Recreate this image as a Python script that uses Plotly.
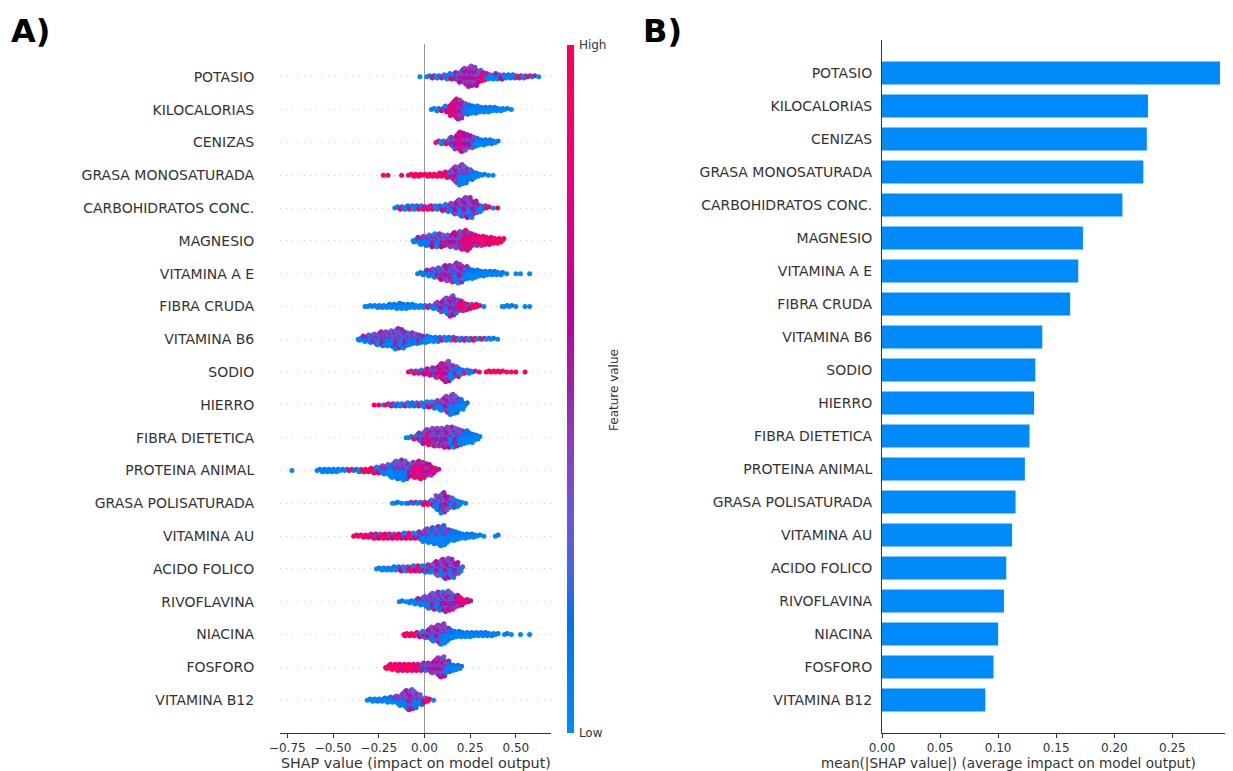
import math
import plotly.graph_objects as go

# ---------------- data ----------------
FEATURES = ["POTASIO", "KILOCALORIAS", "CENIZAS", "GRASA MONOSATURADA",
            "CARBOHIDRATOS CONC.", "MAGNESIO", "VITAMINA A E", "FIBRA CRUDA",
            "VITAMINA B6", "SODIO", "HIERRO", "FIBRA DIETETICA", "PROTEINA ANIMAL",
            "GRASA POLISATURADA", "VITAMINA AU", "ACIDO FOLICO", "RIVOFLAVINA",
            "NIACINA", "FOSFORO", "VITAMINA B12"]

MEAN_ABS_SHAP = [0.291, 0.229, 0.228, 0.225, 0.207, 0.173, 0.169, 0.162, 0.138, 0.132,
                 0.131, 0.127, 0.123, 0.115, 0.112, 0.107, 0.105, 0.100, 0.096, 0.089]

# beeswarm read as histograms: first bin centre (SHAP value), counts per 0.025 bin,
# and the dominant feature-value colour of each bin (b=low, c=low/mid, p=mid, m=mixed, w=mid/high, r=high)
BIN_WIDTH = 0.025
SWARM_START = [-0.025, 0.05, 0.075, -0.225, -0.15, -0.05, -0.025, -0.325, -0.35, -0.075,
               -0.275, -0.1, -0.725, -0.175, -0.375, -0.25, -0.125, -0.1, -0.2, -0.3]
SWARM_COUNTS = [
    [1, 0, 2, 3, 3, 4, 5, 6, 8, 12, 16, 20, 18, 12, 8, 6, 5, 6, 5, 4, 4, 3, 3, 3, 2, 2, 1],
    [2, 3, 4, 6, 12, 18, 16, 10, 8, 7, 6, 5, 5, 4, 3, 3, 2, 1],
    [2, 3, 4, 8, 12, 16, 14, 10, 8, 6, 5, 4, 3, 2],
    [1, 1, 0, 0, 1, 0, 2, 3, 3, 2, 3, 3, 4, 4, 6, 10, 16, 20, 16, 10, 6, 3, 2, 1, 1],
    [2, 3, 4, 4, 4, 4, 3, 4, 4, 4, 5, 7, 9, 12, 15, 18, 18, 12, 7, 4, 2, 1, 1],
    [3, 7, 9, 10, 12, 12, 11, 10, 12, 14, 16, 18, 14, 10, 9, 8, 7, 6, 5, 4],
    [2, 4, 6, 8, 10, 12, 14, 15, 18, 16, 12, 9, 7, 6, 5, 4, 4, 3, 3, 1, 0, 1, 1, 0, 1],
    [1, 2, 2, 3, 3, 4, 4, 5, 6, 5, 4, 3, 3, 3, 3, 5, 8, 12, 16, 20, 14, 10, 7, 5, 4, 2, 1,
     0, 0, 0, 1, 2, 2, 1, 0, 1, 1],
    [3, 6, 8, 10, 12, 14, 14, 16, 20, 18, 14, 12, 10, 8, 7, 6, 5, 5, 4, 4, 4, 3, 3, 3, 3, 3,
     2, 2, 2, 2, 1],
    [2, 3, 4, 5, 7, 9, 12, 16, 20, 14, 10, 6, 4, 3, 2, 1, 0, 2, 2, 2, 2, 1, 1, 1, 0, 1],
    [1, 1, 1, 2, 3, 3, 3, 4, 4, 4, 4, 5, 6, 7, 9, 12, 16, 20, 16, 10, 4],
    [1, 2, 4, 8, 12, 14, 16, 16, 17, 18, 18, 16, 14, 12, 9, 6, 3],
    [1, 0, 0, 0, 0, 0, 2, 3, 3, 3, 3, 2, 2, 2, 2, 3, 3, 4, 5, 6, 8, 10, 13, 16, 18, 16, 12,
     14, 16, 14, 10, 6, 2],
    [1, 2, 1, 1, 2, 2, 2, 3, 4, 7, 14, 20, 14, 10, 7, 3, 1],
    [2, 2, 3, 4, 5, 5, 5, 5, 5, 5, 5, 6, 6, 6, 8, 12, 14, 16, 18, 20, 14, 10, 8, 6, 5, 4, 3,
     2, 1, 0, 0, 2],
    [2, 3, 3, 4, 4, 5, 5, 5, 6, 6, 7, 8, 10, 14, 18, 20, 18, 12, 5],
    [2, 1, 3, 5, 7, 10, 13, 16, 18, 18, 20, 16, 12, 8, 4, 2],
    [3, 3, 4, 5, 7, 10, 14, 18, 20, 14, 8, 6, 6, 5, 5, 4, 4, 4, 3, 3, 2, 0, 2, 1, 0, 1, 0, 1],
    [4, 6, 7, 7, 7, 7, 7, 7, 8, 9, 12, 18, 20, 12, 7, 5, 3],
    [2, 3, 3, 4, 5, 6, 8, 12, 18, 20, 16, 10, 5, 3, 1],
]
SWARM_COLORS = [
    "bbbmbmcmmmpppmrcbcmbbcrbrmb",
    "bbmmwwpcbbbbbbbbbb",
    "rbmmpwppcbbbbb",
    "rrrrrrrrrrrrrrwmpcccbbbbb",
    "bmbmbmmrmbmmcpcpcpcbrbw",
    "bcccmcmmppmwwwwrwrrr",
    "bbccmmpmcpcbbbbbbbbbbbbbb",
    "bbbbbbbbbbbbbbmccpcpmwrmrrbbbbbbbbbbb",
    "bccmcmccmcmccmcbbbmbbrbmbrbrbbb",
    "rmmmwmpwpcmbmbmrrrrrrrrrrr",
    "rrbrmcbmbcmbmmccpccbb",
    "bbmmmwmpmpcmcbbbb",
    "bbbbbbbbbbbbbrmbrrrmccbcccmwwwpww",
    "bbbbmmbmrmcmpcmbb",
    "rrrwrmrrmrwmrmmccbcbcbbbbbbbbbbb",
    "bbbbbmbrmrmmcpcpcpc",
    "bbbbcccmcmpmpwrw",
    "rrrmmpcpccbbbbbbbbbbbbbbbbbb",
    "rrrwrrwrmmpppcbbb",
    "bbbbbbcccpccmrb",
]
X_TICKS_A = [-0.75, -0.5, -0.25, 0.0, 0.25, 0.5]
X_TICKS_B = [0.0, 0.05, 0.10, 0.15, 0.20, 0.25]

# ---------------- style helpers ----------------
PALETTES = {
    "b": [0.03, 0.12, 0.06, 0.18],
    "c": [0.08, 0.4, 0.15, 0.3, 0.05, 0.5],
    "p": [0.5, 0.4, 0.6, 0.45, 0.55, 0.35, 0.65],
    "m": [0.1, 0.5, 0.85, 0.3, 0.65, 0.05],
    "w": [0.8, 0.55, 0.92, 0.45, 0.7],
    "r": [0.97, 0.88, 0.93, 0.82],
}


def lch2rgb(l, c, h):
    a = c * math.cos(h)
    b = c * math.sin(h)
    fy = (l + 16) / 116
    fx = fy + a / 500
    fz = fy - b / 200

    def finv(t):
        return t ** 3 if t > 6 / 29 else 3 * (6 / 29) ** 2 * (t - 4 / 29)
    X, Y, Z = 0.95047 * finv(fx), finv(fy), 1.08883 * finv(fz)
    r = 3.2404542 * X - 1.5371385 * Y - 0.4985314 * Z
    g = -0.9692660 * X + 1.8760108 * Y + 0.0415560 * Z
    bb = 0.0556434 * X - 0.2040259 * Y + 1.0572252 * Z

    def gam(u):
        u = max(0.0, min(1.0, u))
        return 12.92 * u if u <= 0.0031308 else 1.055 * u ** (1 / 2.4) - 0.055
    return "rgb(%d,%d,%d)" % tuple(round(255 * gam(v)) for v in (r, g, bb))


# shap red_blue colormap (LCH interpolation)
colorscale = []
NSTOP = 24
for k in range(NSTOP + 1):
    p = k / NSTOP
    L = 54 - 14 * (p / 0.5) if p <= 0.5 else 40 + 14 * ((p - 0.5) / 0.5)
    C = 70 + 20 * p
    H = 4.6588 + (0.35470565 + 2 * math.pi - 4.6588) * p
    colorscale.append([p, lch2rgb(L, C, H)])

BLUE = lch2rgb(54, 70, 4.6588)

n_feat = len(FEATURES)
rows = [n_feat - 1 - i for i in range(n_feat)]

# beeswarm layout (shap-style layering)
xs, ys, cs = [], [], []
GOLD = 0.6180339887
for fi in range(n_feat):
    counts = SWARM_COUNTS[fi]
    maxc = max(counts)
    maxlayer = math.ceil((maxc - 1) / 2)
    dy = 0.9 * 0.4 / (maxlayer + 1)
    for bi, n in enumerate(counts):
        centre = SWARM_START[fi] + bi * BIN_WIDTH
        pal = PALETTES[SWARM_COLORS[fi][bi]]
        for i in range(n):
            layer = math.ceil(i / 2) * (1 if i % 2 == 1 else -1)
            frac = ((i * GOLD) % 1.0) if n > 1 else 0.5
            xs.append(centre - BIN_WIDTH / 2 + frac * BIN_WIDTH)
            ys.append(rows[fi] + layer * dy)
            cs.append(pal[i % len(pal)])

W, H = 1233, 771
OFF = 8  # page body margin of the browser
FONT = "DejaVu Sans"
TXT = "#333333"


def px_x(p):
    return (p - OFF) / W


def px_y(p):
    return 1 - (p - OFF) / H


fig = go.Figure()
fig.add_trace(go.Scatter(
    x=xs, y=ys, mode="markers", xaxis="x", yaxis="y", hoverinfo="skip",
    marker=dict(size=5, color=cs, colorscale=colorscale, cmin=0, cmax=1, line=dict(width=0),
                colorbar=dict(x=px_x(567), xanchor="left", xref="paper", xpad=0, ypad=0,
                              y=px_y(389), yanchor="middle", yref="paper",
                              len=(733 - 45) / H, lenmode="fraction", thickness=7,
                              outlinewidth=0, tickvals=[0, 1], ticktext=["Low", "High"],
                              ticks="outside", ticklen=3, tickcolor="rgba(0,0,0,0)",
                              tickfont=dict(size=12, color=TXT, family=FONT))),
    showlegend=False))

fig.add_trace(go.Bar(
    x=MEAN_ABS_SHAP, y=rows, orientation="h", width=0.7, xaxis="x2", yaxis="y2",
    marker=dict(color=BLUE, line=dict(width=0)), showlegend=False, hoverinfo="skip"))

common_x = dict(showline=True, linecolor=TXT, linewidth=1, ticks="outside", ticklen=4,
                tickcolor=TXT, tickfont=dict(size=12, color=TXT, family=FONT),
                showgrid=False, tickformat=".2f", automargin=False)

fig.update_layout(
    width=W, height=H, margin=dict(l=0, r=0, t=0, b=0, autoexpand=False),
    paper_bgcolor="white", plot_bgcolor="white",
    font=dict(family=FONT, color=TXT),
    xaxis=dict(domain=[px_x(280), px_x(551)], range=[-0.79, 0.692], tickvals=X_TICKS_A,
               zeroline=True, zerolinecolor="#999999", zerolinewidth=1, **common_x),
    yaxis=dict(domain=[px_y(733), px_y(44)], range=[-1, 20], tickvals=rows,
               ticktext=FEATURES, showline=False, zeroline=False, ticks="outside",
               ticklen=22, tickcolor="rgba(0,0,0,0)", automargin=False,
               tickfont=dict(size=14, color=TXT, family=FONT),
               showgrid=True, gridcolor="#cccccc", gridwidth=1, griddash="1px,5px"),
    xaxis2=dict(domain=[px_x(882), px_x(1233)], range=[0, 0.3022], tickvals=X_TICKS_B,
                zeroline=False, **common_x),
    yaxis2=dict(domain=[px_y(733), px_y(40)], range=[-1, 20], tickvals=rows,
                ticktext=FEATURES, showline=True, linecolor=TXT, linewidth=1,
                zeroline=False, showgrid=False, ticks="outside", ticklen=6,
                tickcolor="rgba(0,0,0,0)", anchor="x2", automargin=False,
                tickfont=dict(size=14, color=TXT, family=FONT)),
)

fig.add_annotation(x=px_x(416), y=px_y(763), xref="paper", yref="paper",
                   text="SHAP value (impact on model output)", showarrow=False,
                   xanchor="center", yanchor="middle",
                   font=dict(size=14.3, color=TXT, family=FONT))
fig.add_annotation(x=px_x(1008), y=px_y(763), xref="paper", yref="paper",
                   text="mean(|SHAP value|) (average impact on model output)",
                   showarrow=False, xanchor="center", yanchor="middle",
                   font=dict(size=13.6, color=TXT, family=FONT))
fig.add_annotation(x=px_x(614), y=px_y(390), xref="paper", yref="paper",
                   text="Feature value", textangle=-90, showarrow=False,
                   font=dict(size=12, color=TXT, family=FONT))
fig.add_annotation(x=px_x(9), y=px_y(31), xref="paper", yref="paper", xanchor="left",
                   yanchor="middle", text="<b>A)</b>", showarrow=False,
                   font=dict(size=32, color="black", family=FONT))
fig.add_annotation(x=px_x(641), y=px_y(31), xref="paper", yref="paper", xanchor="left",
                   yanchor="middle", text="<b>B)</b>", showarrow=False,
                   font=dict(size=32, color="black", family=FONT))

fig.write_html("out.html")
